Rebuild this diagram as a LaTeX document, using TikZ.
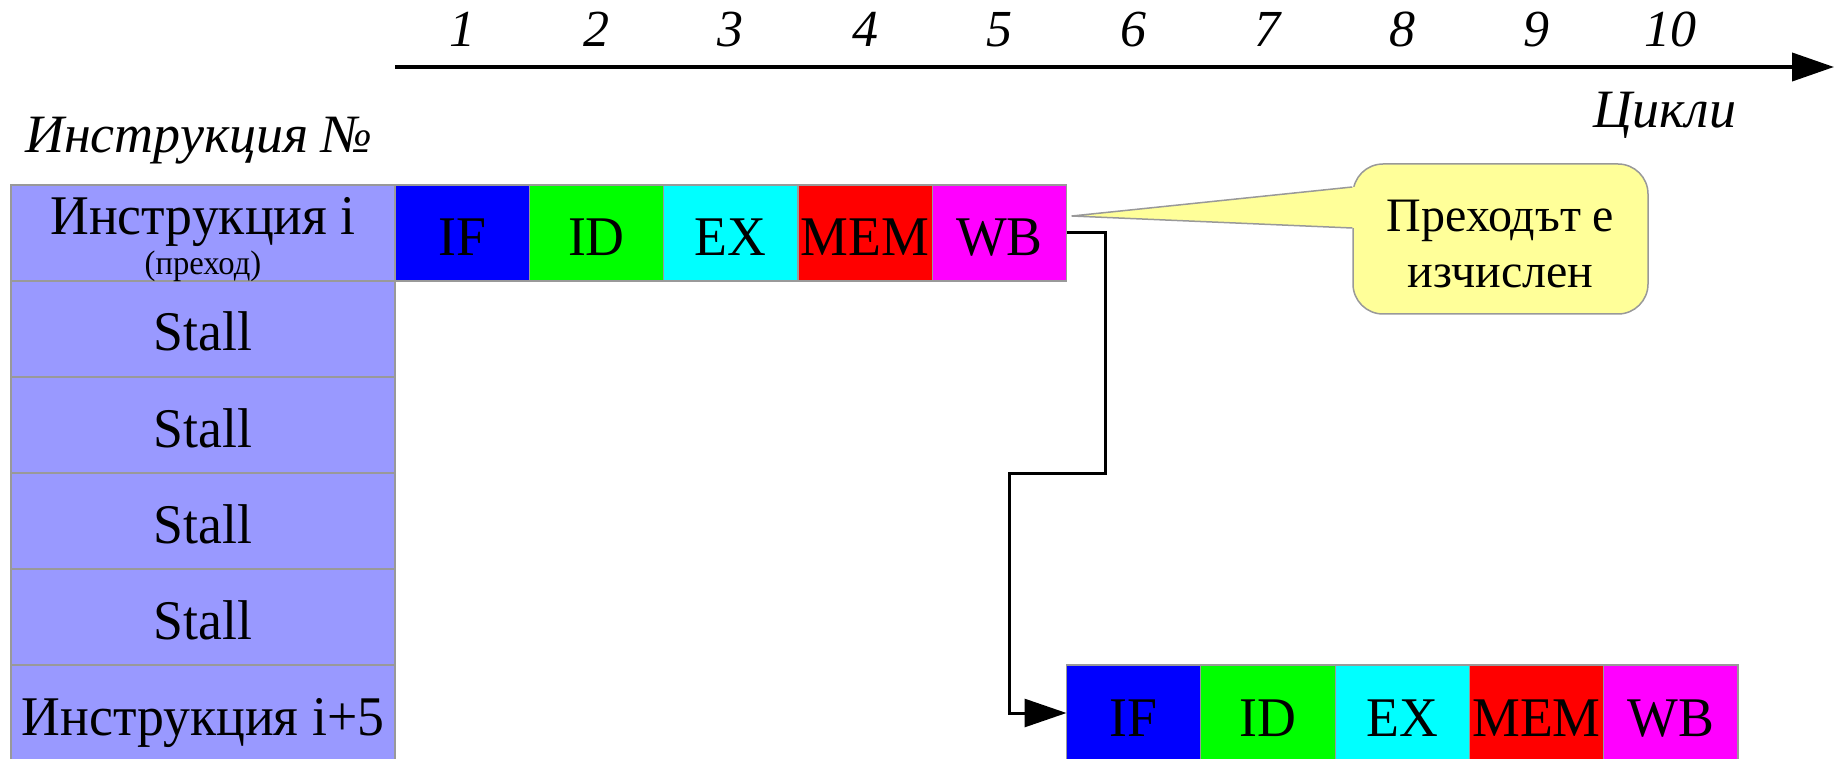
\documentclass[tikz,border=0pt]{standalone}
\usepackage{fontspec}
\setmainfont{Liberation Serif}
\newfontfamily\condfont[FakeStretch=0.96]{Liberation Serif}
\usetikzlibrary{arrows.meta,calc}
\definecolor{colrow}{HTML}{9999FF}
\definecolor{callfill}{HTML}{FFFF99}
\definecolor{bord}{HTML}{999999}
\definecolor{stIF}{HTML}{0000FF}
\definecolor{stID}{HTML}{00FF00}
\definecolor{stEX}{HTML}{00FFFF}
\definecolor{stMEM}{HTML}{FF0000}
\definecolor{stWB}{HTML}{FF00FF}
\begin{document}
\begin{tikzpicture}[x=1pt,y=-1pt,
  cell/.style={draw=bord, line width=1.2pt, minimum width=134.3pt, minimum height=96pt, inner sep=0pt, outer sep=0pt, anchor=north west},
  rowbox/.style={draw=bord, line width=1.2pt, fill=colrow, minimum width=384pt, minimum height=96pt, inner sep=0pt, outer sep=0pt, anchor=north west},
  big/.style={font=\condfont\fontsize{56}{62}\selectfont, inner sep=0pt, anchor=base},
  small/.style={font=\condfont\fontsize{34}{40}\selectfont, inner sep=0pt, anchor=base},
  ital/.style={font=\fontsize{52}{60}\selectfont\itshape, inner sep=0pt, anchor=base},
  itallab/.style={font=\fontsize{54}{60}\selectfont\itshape, inner sep=0pt, anchor=base},
  calltxt/.style={font=\fontsize{48}{56}\selectfont, inner sep=0pt, anchor=base},
  note/.style={draw=bord, line width=1.5pt, fill=callfill, rounded corners=30pt, minimum width=295pt, minimum height=150pt, inner sep=0pt},
  axis/.style={line width=4pt, -{Triangle[length=42pt,width=28pt]}},
  conn/.style={line width=3pt, -{Triangle[length=42pt,width=28pt]}}
]
\clip (0,0) rectangle (1837,759);
\fill[white] (0,0) rectangle (1837,759);

% axis
\coordinate (ax0) at (395,67);
\coordinate (ax1) at (1834,67);
\draw[axis] (ax0) -- (ax1);
\foreach \k in {1,...,10}{
  \node[ital] (n\k) at ({395+134.3*(\k-0.5)},47) {\k};
}
\node[itallab] (cyc) at (1665,128) {Цикли};
\node[itallab] (instno) at (199,153) {Инструкция №};

% left column
\foreach \k in {0,...,5}{
  \node[rowbox] (r\k) at (11,{185+96*\k}) {};
}
\node[big] (t0) at ($(r0.north)+(0,50)$) {Инструкция i};
\node[small] (t0b) at ($(r0.north)+(0,90)$) {(преход)};
\foreach \k in {1,...,4}{
  \node[big] (t\k) at ($(r\k.north)+(0,70)$) {Stall};
}
\node[big] (t5) at ($(r5.north)+(0,70)$) {Инструкция i+5};

% pipelines
\foreach \s [count=\i from 0] in {IF,ID,EX,MEM,WB}{
  \node[cell, fill=st\s] (p\i) at ({395+134.3*\i},185) {};
  \node[big] at ($(p\i.north)+(0,71)$) {\s};
  \node[cell, fill=st\s] (q\i) at ({1066.5+134.3*\i},665) {};
  \node[big] at ($(q\i.north)+(0,71)$) {\s};
}

% connector
\coordinate (k1) at (1105,473);
\coordinate (k2) at (1009,473);
\draw[conn] (p4.east) -| (k1) -- (k2) |- (q0.west);

% callout
\node[note] (note) at (1500.5,239) {};
\coordinate (tip) at (1072,216);
\coordinate (w1) at ($(note.west)+(0,-52)$);
\coordinate (w2) at ($(note.west)+(0,-11)$);
\fill[callfill] (tip) -- (w1) -- ($(w1)+(5,0)$) -- ($(w2)+(5,0)$) -- (w2) -- cycle;
\draw[bord, line width=1.5pt, line join=round] (w1) -- (tip) -- (w2);
\node[calltxt] (c1) at ($(note.north)+(0,68)$) {Преходът е};
\node[calltxt] (c2) at ($(note.north)+(0,124)$) {изчислен};
\end{tikzpicture}
\end{document}
